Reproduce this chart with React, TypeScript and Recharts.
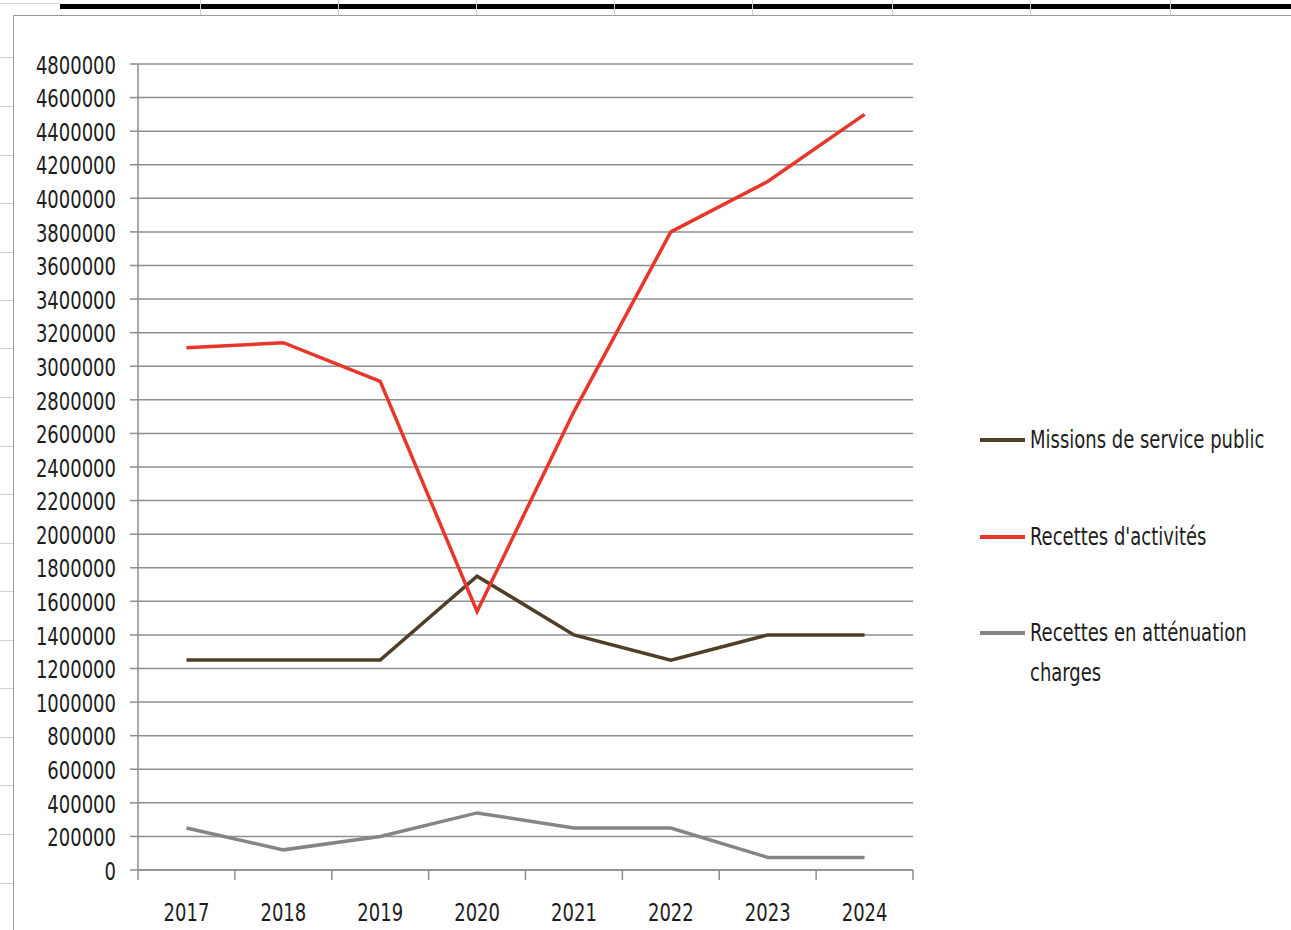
import React from 'react';
import { LineChart, Line, XAxis, YAxis, CartesianGrid } from 'recharts';

const years = ['2017', '2018', '2019', '2020', '2021', '2022', '2023', '2024'];
const missions = [1250000, 1250000, 1250000, 1750000, 1400000, 1250000, 1400000, 1400000];
const recettesActivites = [3110000, 3140000, 2910000, 1540000, 2730000, 3800000, 4100000, 4500000];
const recettesAttenuation = [250000, 120000, 200000, 340000, 250000, 250000, 75000, 75000];
const yTicks = [
  0, 200000, 400000, 600000, 800000, 1000000, 1200000, 1400000, 1600000, 1800000, 2000000,
  2200000, 2400000, 2600000, 2800000, 3000000, 3200000, 3400000, 3600000, 3800000, 4000000,
  4200000, 4400000, 4600000, 4800000,
];

const series = [
  { key: 'missions', name: 'Missions de service public', color: '#4f3f26' },
  { key: 'activites', name: "Recettes d'activités", color: '#e8362b' },
  { key: 'attenuation', name: 'Recettes en atténuation charges', color: '#858585' },
];

const data = years.map((y, i) => ({
  year: y,
  missions: missions[i],
  activites: recettesActivites[i],
  attenuation: recettesAttenuation[i],
}));

// no narrow font installed, so condensed + a little vertical stretch
const FONT = '"DejaVu Sans Condensed", "DejaVu Sans", sans-serif';
const FS = 20;
const STRETCH = 1.22;
const GRID = '#8e8e8e';
const INK = '#1c1c1c';

// excel puts the category ticks between the labels, so draw them ourselves
const YearTick = (props: any) => {
  const { x, y, payload, index } = props;
  const half = payload && payload.offset ? payload.offset : 48.4;
  return (
    <g>
      <line x1={x - half} y1={y} x2={x - half} y2={y + 10} stroke={GRID} strokeWidth={1.5} />
      {index === years.length - 1 && (
        <line x1={x + half} y1={y} x2={x + half} y2={y + 10} stroke={GRID} strokeWidth={1.5} />
      )}
      <text
        transform={`translate(${x},${y + 42}) scale(1,${STRETCH})`}
        textAnchor="middle"
        dominantBaseline="central"
        fontSize={FS}
        fontFamily={FONT}
        fill={INK}
      >
        {payload.value}
      </text>
    </g>
  );
};

const ValueTick = (props: any) => {
  const { x, y, payload } = props;
  return (
    <text
      transform={`translate(${x},${y + 1}) scale(1,${STRETCH})`}
      textAnchor="end"
      dominantBaseline="central"
      fontSize={FS}
      fontFamily={FONT}
      fill={INK}
    >
      {payload.value}
    </text>
  );
};

const rowLines = [57, 106, 155, 203, 252, 300, 348, 397, 446, 494, 543, 591, 640, 688, 737, 785, 834, 883];
const colLines = [200, 338, 476, 614, 752, 892, 1030, 1170];
const legendY = [440, 537, 633];

export default function App() {
  return (
    <div style={{ position: 'fixed', left: 0, top: 0, width: 1291, height: 930, background: '#fff', overflow: 'hidden' }}>
      {/* spreadsheet bits around the chart */}
      <div style={{ position: 'absolute', left: 60, top: 4, width: 1240, height: 5, background: '#000' }} />
      <div style={{ position: 'absolute', left: 0, top: 3, width: 60, height: 1, background: '#d4d4d4' }} />
      {colLines.map(cx => (
        <div key={cx} style={{ position: 'absolute', left: cx, top: 0, width: 1, height: 15, background: '#cfcfcf' }} />
      ))}
      {rowLines.map(ry => (
        <div key={ry} style={{ position: 'absolute', left: 0, top: ry, width: 13, height: 1, background: '#cfcfcf' }} />
      ))}
      <div style={{ position: 'absolute', left: 13, top: 15, width: 1300, height: 940, border: '1.5px solid #9a9a9a', background: '#fff' }} />

      <div style={{ position: 'absolute', left: 0, top: 0 }}>
        <LineChart width={1291} height={930} data={data} margin={{ top: 64, right: 378, bottom: 0, left: 0 }}>
          <CartesianGrid vertical={false} stroke={GRID} strokeWidth={1.5} />
          <XAxis
            dataKey="year"
            scale="band"
            stroke={GRID}
            strokeWidth={1.5}
            tickLine={false}
            tickSize={0}
            tickMargin={0}
            height={60}
            interval={0}
            tick={<YearTick />}
          />
          <YAxis
            domain={[0, 4800000]}
            ticks={yTicks}
            interval={0}
            width={138}
            stroke={GRID}
            strokeWidth={1.5}
            tickSize={8}
            tickMargin={14}
            tick={<ValueTick />}
          />
          {series.map(s => (
            <Line
              key={s.key}
              type="linear"
              dataKey={s.key}
              name={s.name}
              stroke={s.color}
              strokeWidth={3.5}
              dot={false}
              isAnimationActive={false}
            />
          ))}
        </LineChart>
      </div>

      {/* legend */}
      {series.map((s, i) => (
        <React.Fragment key={s.key}>
          <div style={{ position: 'absolute', left: 980, top: legendY[i] - 2, width: 45, height: 4, background: s.color }} />
          <div
            style={{
              position: 'absolute',
              left: 1030,
              top: legendY[i] - 20,
              width: 250,
              fontFamily: FONT,
              fontSize: FS,
              lineHeight: `${40 / STRETCH}px`,
              color: INK,
              transform: `scaleY(${STRETCH})`,
              transformOrigin: 'top left',
            }}
          >
            {s.name}
          </div>
        </React.Fragment>
      ))}
    </div>
  );
}
